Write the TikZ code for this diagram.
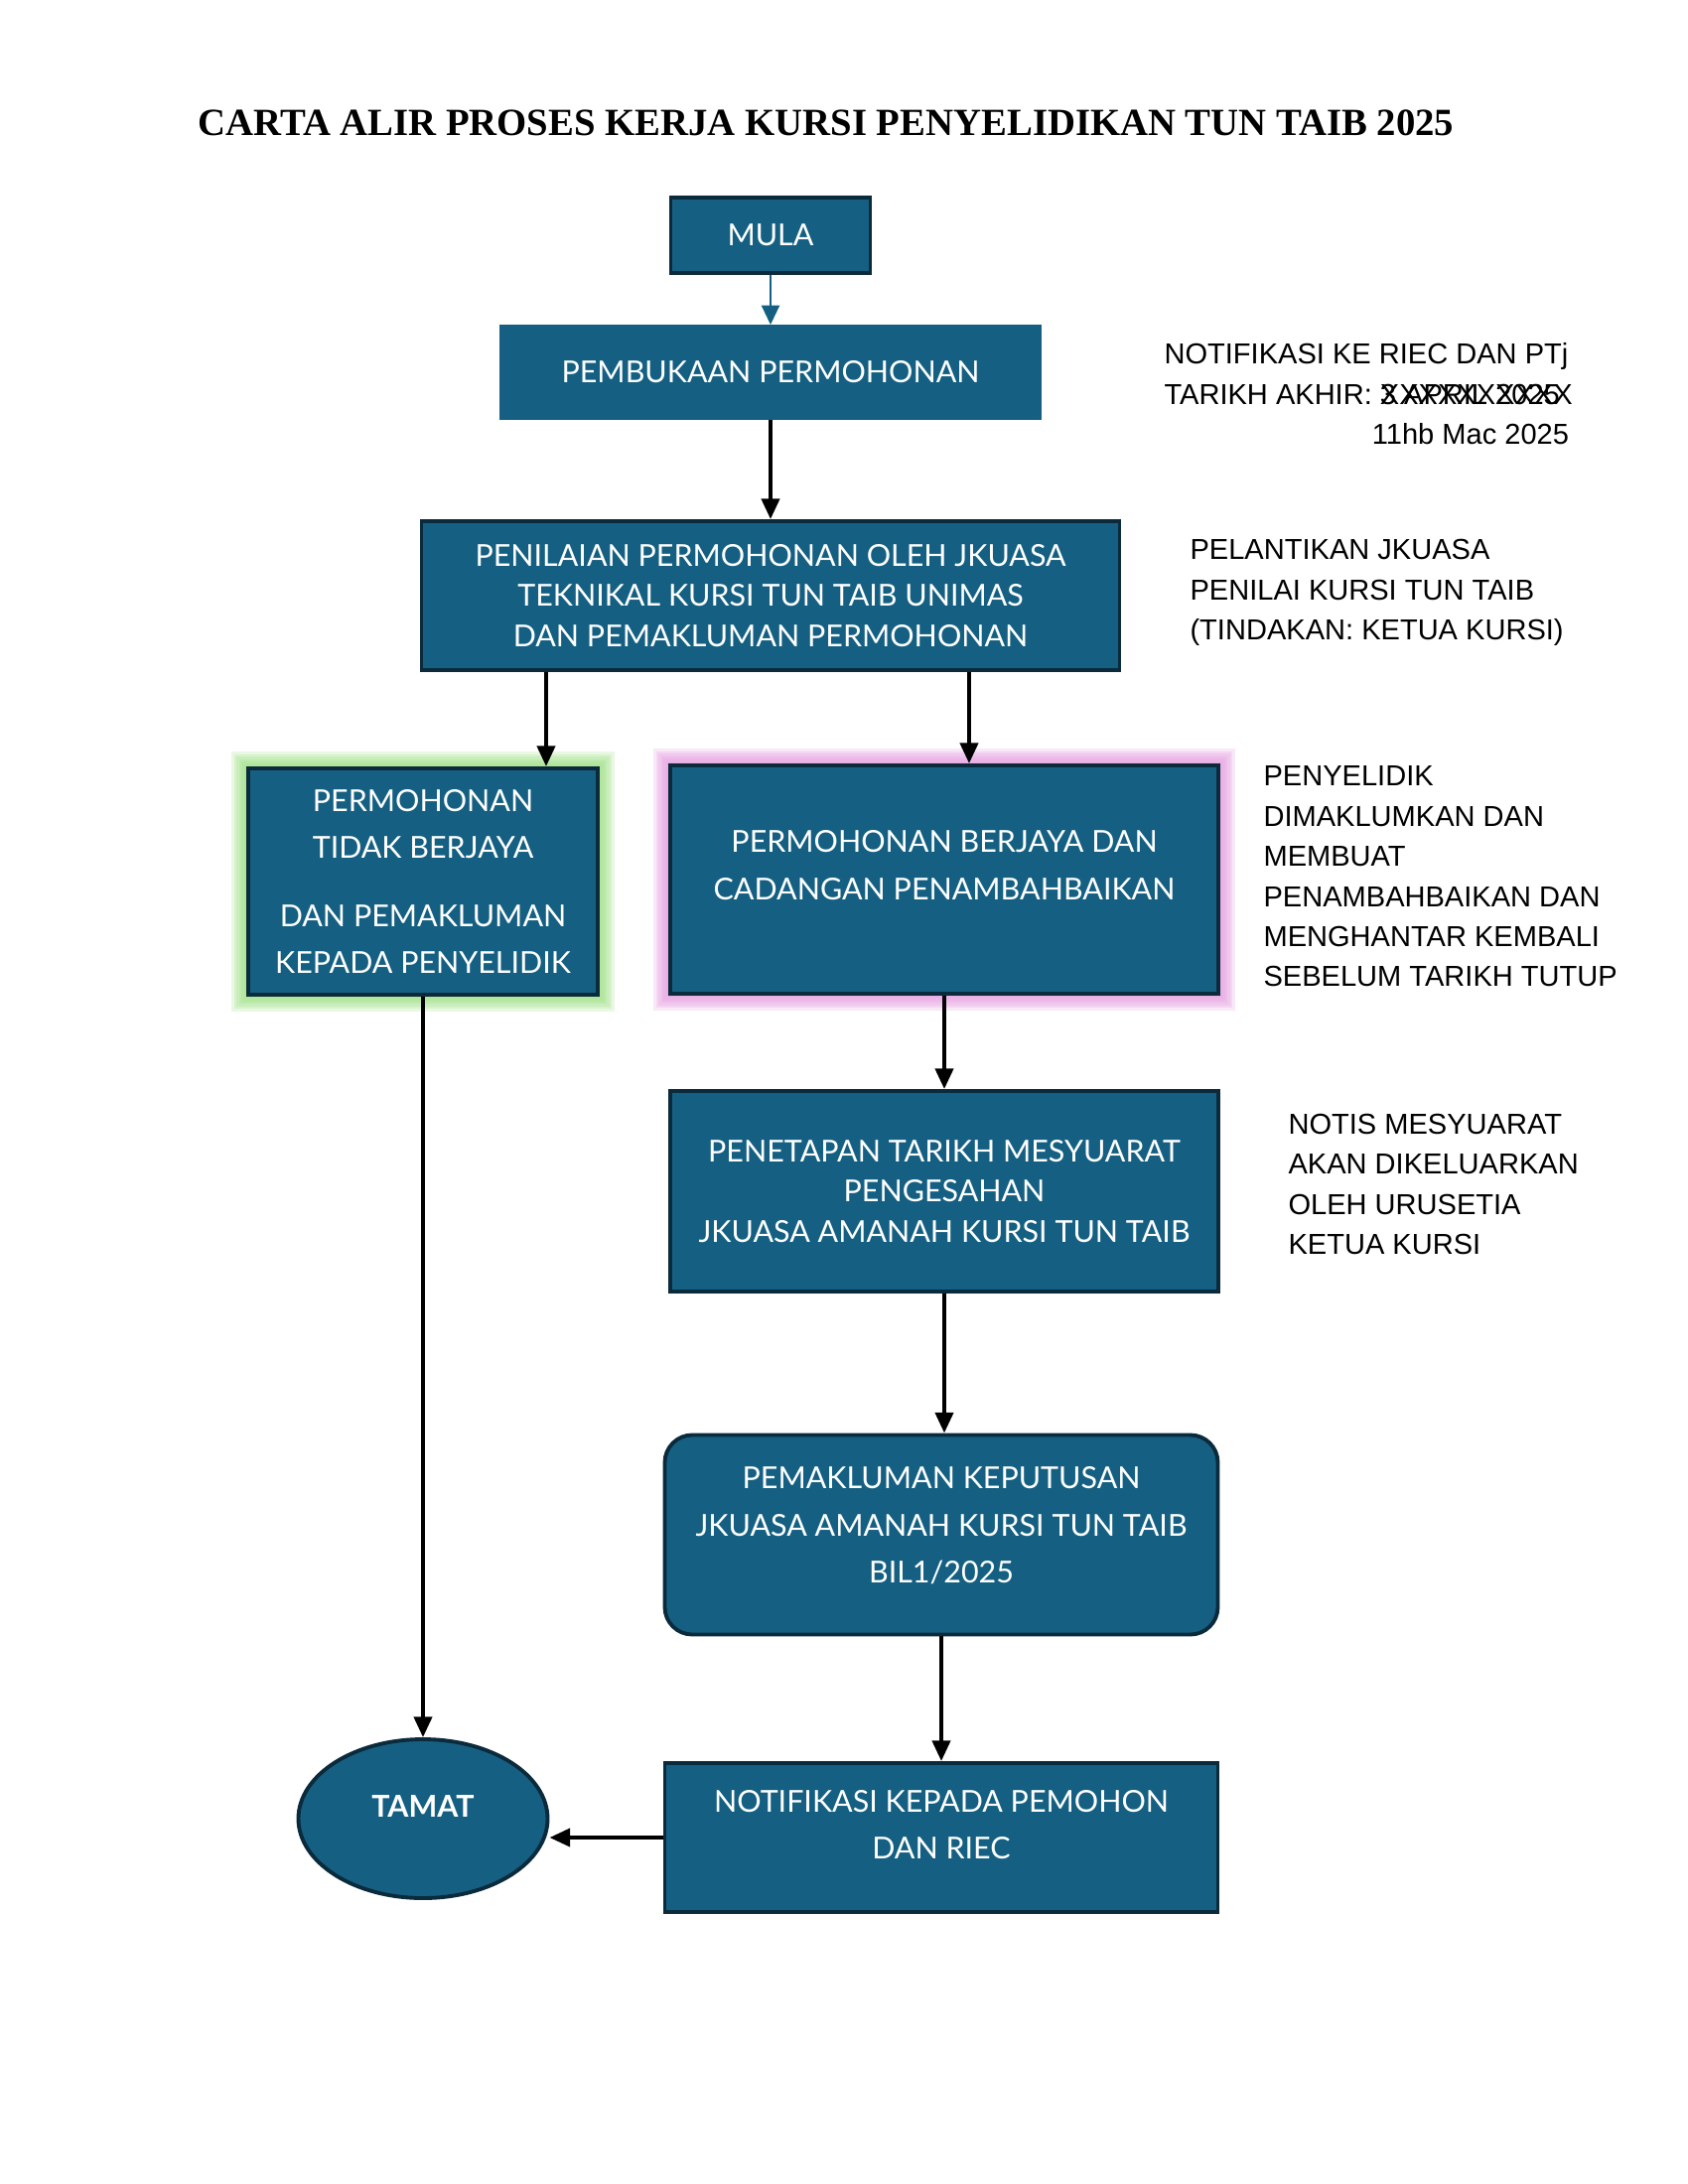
\documentclass[tikz,border=0pt]{standalone}
\usepackage{fontspec}
\setmainfont{Lato}
\newfontfamily\notefont{Liberation Sans}
\newfontfamily\titlefont{Liberation Serif}
\usetikzlibrary{arrows.meta,shapes.geometric,backgrounds}
\definecolor{boxfill}{HTML}{156082}
\definecolor{boxline}{HTML}{0B2B3C}
\definecolor{glowgreen}{HTML}{9BE07F}
\definecolor{glowpink}{HTML}{E49AE0}
\newcommand{\pxu}{0.3614pt}
\newcommand{\lift}[1]{\rule[-#1]{0pt}{0pt}}
\tikzset{
  box/.style={draw=boxline, line width=1.4pt, fill=boxfill, text=white, align=center, inner sep=0pt, font=\fontsize{11}{14.6}\selectfont},
  flow/.style={line width=1.5pt, -{Triangle[length=7.5pt,width=6.5pt]}},
  note/.style={anchor=west, align=left, inner sep=0pt, font=\notefont\fontsize{10.5}{14.6}\selectfont},
}
\begin{document}
\begin{tikzpicture}[x=0.3614pt,y=0.3614pt,yscale=-1,xscale=1]
    \useasboundingbox (0,0) rectangle (1700,2200);

    % Text Node
    \node[inner sep=0pt, font=\titlefont\bfseries\fontsize{14}{16}\selectfont] (judul) at (832,124) {CARTA ALIR PROSES KERJA KURSI PENYELIDIKAN TUN TAIB 2025};

    %Shape: Rectangle [mula]
    \node[box, minimum width=201*\pxu, minimum height=76*\pxu] (mula) at (776,237) {MULA};
    %Shape: Rectangle [pembukaan]
    \node[box, draw=boxfill, minimum width=543*\pxu, minimum height=92*\pxu] (pembukaan) at (776,375) {PEMBUKAAN PERMOHONAN};
    %Shape: Rectangle [penilaian]
    \node[box, minimum width=703*\pxu, minimum height=150*\pxu] (penilaian) at (776,600) {PENILAIAN PERMOHONAN OLEH JKUASA\\TEKNIKAL KURSI TUN TAIB UNIMAS\\DAN PEMAKLUMAN PERMOHONAN};
    %Shape: Rectangle [kiri]
    \node[box, minimum width=352*\pxu, minimum height=228*\pxu, font=\fontsize{11}{17.2}\selectfont] (kiri) at (426,888) {PERMOHONAN\\TIDAK BERJAYA\\[7.5pt]DAN PEMAKLUMAN\\KEPADA PENYELIDIK};
    %Shape: Rectangle [kanan]
    \node[box, minimum width=552*\pxu, minimum height=230*\pxu, font=\fontsize{11}{17.2}\selectfont] (kanan) at (951,886) {PERMOHONAN BERJAYA DAN\\CADANGAN PENAMBAHBAIKAN\lift{10.5pt}};
    %Shape: Rectangle [penetapan]
    \node[box, minimum width=552*\pxu, minimum height=202*\pxu] (penetapan) at (951,1200) {PENETAPAN TARIKH MESYUARAT\\PENGESAHAN\\JKUASA AMANAH KURSI TUN TAIB};
    %Shape: Rounded Rectangle [pemakluman]
    \node[box, rounded corners=10pt, minimum width=557*\pxu, minimum height=201*\pxu, font=\fontsize{11}{17.2}\selectfont] (pemakluman) at (948,1546) {PEMAKLUMAN KEPUTUSAN\\JKUASA AMANAH KURSI TUN TAIB\\BIL1/2025\lift{7.2pt}};
    %Shape: Rectangle [notifikasi]
    \node[box, minimum width=557*\pxu, minimum height=150*\pxu, font=\fontsize{11}{17.2}\selectfont] (notifikasi) at (948,1851) {NOTIFIKASI KEPADA PEMOHON\\DAN RIEC\lift{9.4pt}};
    %Shape: Ellipse [tamat]
    \node[box, ellipse, minimum width=251*\pxu, minimum height=160*\pxu, font=\bfseries\fontsize{11}{14}\selectfont] (tamat) at (426,1832) {TAMAT\lift{8.7pt}};

    % Text Node
    \node[note] (nota1) at (1172,397) {NOTIFIKASI KE RIEC DAN PTj\\TARIKH AKHIR: \rlap{XXXXXXXXXX}3 APRIL 2025\\\phantom{TARIKH AKHIR:}11hb Mac 2025};
    % Text Node
    \node[note] (nota2) at (1198,597) {PELANTIKAN JKUASA\\PENILAI KURSI TUN TAIB\\(TINDAKAN: KETUA KURSI)};
    % Text Node
    \node[note] (nota3) at (1272,883) {PENYELIDIK\\DIMAKLUMKAN DAN\\MEMBUAT\\PENAMBAHBAIKAN DAN\\MENGHANTAR KEMBALI\\SEBELUM TARIKH TUTUP};
    % Text Node
    \node[note] (nota4) at (1297,1193) {NOTIS MESYUARAT\\AKAN DIKELUARKAN\\OLEH URUSETIA\\KETUA KURSI};

    % Connectors
    \draw[line width=0.8pt, draw=boxfill, -{Triangle[length=7pt,width=6.5pt]}] (mula) -- (pembukaan);
    \draw[flow] (pembukaan) -- (penilaian);
    \draw[flow] ([xshift=-226*\pxu]penilaian.south) -- ([xshift=-226*\pxu]penilaian.south |- kiri.north);
    \draw[flow] ([xshift=200*\pxu]penilaian.south) -- ([xshift=200*\pxu]penilaian.south |- kanan.north);
    \draw[flow] (kanan) -- (penetapan);
    \draw[flow] (penetapan.south) -- (penetapan.south |- pemakluman.north);
    \draw[flow] (pemakluman) -- (notifikasi);
    \draw[flow] (kiri) -- (tamat);
    \draw[flow] (notifikasi.west) -- (notifikasi.west -| tamat.east);

    % glow
    \begin{scope}[on background layer]
    \fill[white] (0,0) rectangle (1700,2200);
    \foreach \g in {30,25,20,15,10,5}{
      \draw[glowgreen, line width=\g*\pxu, opacity=0.22] (kiri.south west) rectangle (kiri.north east);
      \draw[glowpink, line width=\g*\pxu, opacity=0.22] (kanan.south west) rectangle (kanan.north east);
    }
    \end{scope}

\end{tikzpicture}
\end{document}
